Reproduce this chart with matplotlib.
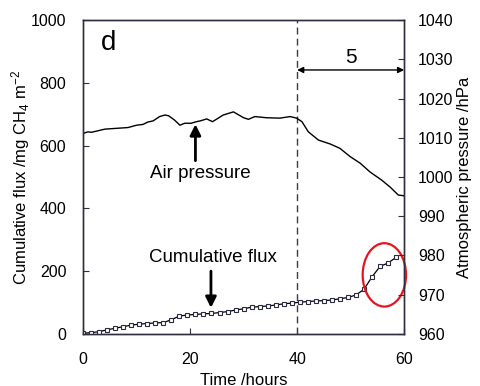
import matplotlib
matplotlib.use("Agg")
import matplotlib.pyplot as plt
from matplotlib.patches import Ellipse
import numpy as np

plt.rcParams['font.family'] = ['Liberation Sans', 'DejaVu Sans']
plt.rcParams['mathtext.fontset'] = 'custom'
plt.rcParams['mathtext.rm'] = 'Liberation Sans'
plt.rcParams['mathtext.it'] = 'Liberation Sans'

# Cumulative flux (mg CH4 m-2), sampled every 1.5 h
flux_time = [0, 1.5, 3, 4.5, 6, 7.5, 9, 10.5, 12, 13.5,
             15, 16.5, 18, 19.5, 21, 22.5, 24, 25.5, 27, 28.5,
             30, 31.5, 33, 34.5, 36, 37.5, 39, 40.5, 42, 43.5,
             45, 46.5, 48, 49.5, 51, 52.5, 54, 55.5, 57, 58.5]
flux = [2, 4, 7, 13, 18, 23, 28, 31, 33, 35,
        36, 45, 57, 60, 62, 64, 65, 68, 71, 76,
        80, 85, 87, 89, 92, 96, 98, 101, 103, 105,
        106, 108, 112, 116, 124, 142, 182, 215, 226, 244]

# Atmospheric pressure (hPa)
p_time = [0, 0.9, 1.6, 4.1, 8.4, 10.0, 11.2, 12.1, 13.1, 14.3,
          15.3, 16.0, 17.1, 18.1, 19.0, 20.2, 21.2, 21.9, 23.1, 24.2,
          26.2, 28.1, 30.0, 30.9, 32.1, 34.3, 36.8, 38.7, 39.9, 40.9,
          42.1, 44.0, 46.2, 48.0, 49.9, 51.8, 53.6, 55.8, 57.4, 58.9, 60]
pressure = [1011.1, 1011.5, 1011.4, 1012.2, 1012.6, 1013.2, 1013.4, 1014.0, 1014.3, 1015.4,
            1015.8, 1015.6, 1014.5, 1013.2, 1013.7, 1013.7, 1014.1, 1014.3, 1014.8, 1014.1,
            1015.8, 1016.6, 1015.1, 1014.7, 1015.4, 1015.1, 1015.0, 1015.4, 1015.0, 1014.1,
            1011.5, 1009.4, 1008.4, 1007.3, 1005.2, 1003.5, 1001.3, 999.2, 997.4, 995.4, 995.2]

x_ticks = [0, 20, 40, 60]
left_ticks = [0, 200, 400, 600, 800, 1000]
right_ticks = [960, 970, 980, 990, 1000, 1010, 1020, 1030, 1040]

fig = plt.figure(figsize=(4.8, 3.86), dpi=100)
ax = fig.add_axes([0.173, 0.135, 0.669, 0.813])
ax2 = ax.twinx()

spine_c = '#2e2e3e'
for a in (ax, ax2):
    for s in a.spines.values():
        s.set_color(spine_c)
        s.set_linewidth(1.0)

ax.plot(flux_time, flux, color='black', lw=0.9, marker='s', markersize=3.2,
        markerfacecolor='white', markeredgecolor='#2a2a40', markeredgewidth=0.8, zorder=3)
ax2.plot(p_time, pressure, color='black', lw=1.0)

ax.set_xlim(0, 60)
ax.set_ylim(0, 1000)
ax2.set_ylim(960, 1040)
ax.set_xticks(x_ticks)
ax.set_yticks(left_ticks)
ax2.set_yticks(right_ticks)

ax.tick_params(axis='both', direction='in', length=4, labelsize=11.5, color=spine_c)
ax.tick_params(axis='x', pad=13)
ax.tick_params(axis='y', pad=12)
ax2.tick_params(axis='y', direction='in', length=4, labelsize=11.5, pad=10, color=spine_c)

ax.set_xlabel('Time /hours', fontsize=12, labelpad=4)
ax.set_ylabel('Cumulative flux /mg CH$_4$ m$^{-2}$', fontsize=12)
ax2.set_ylabel('Atmospheric pressure /hPa', fontsize=12)
ax.yaxis.set_label_coords(-0.16, 0.5)
ax2.yaxis.set_label_coords(1.165, 0.5)

# dashed vertical line at 40 h
ax.axvline(40, color='#3a3a50', lw=1.0, ls=(0, (5, 3)))

# double arrow labelled 5
ax.annotate('', xy=(60, 841), xytext=(40, 841),
            arrowprops=dict(arrowstyle='<|-|>', color='black', lw=1.0,
                            mutation_scale=9, shrinkA=0, shrinkB=0))
ax.text(50, 880, '5', fontsize=15, ha='center', va='center')

# panel letter
ax.text(4.7, 928, 'd', fontsize=20, ha='center', va='center')

# annotations
ax.text(21.9, 510, 'Air pressure', fontsize=13.5, ha='center', va='center')
ax.annotate('', xy=(21.0, 668), xytext=(21.0, 552),
            arrowprops=dict(arrowstyle='-|>', color='black', lw=2,
                            mutation_scale=16, shrinkA=0, shrinkB=0))
ax.text(24.3, 242, 'Cumulative flux', fontsize=13.5, ha='center', va='center')
ax.annotate('', xy=(23.9, 83), xytext=(23.9, 200),
            arrowprops=dict(arrowstyle='-|>', color='black', lw=2,
                            mutation_scale=16, shrinkA=0, shrinkB=0))

# red ellipse
ax.add_patch(Ellipse((56.3, 188), 8.1, 202, fill=False, edgecolor='#e8141c', lw=1.6,
                     clip_on=False, zorder=4))

fig.savefig('out.png', dpi=100)
